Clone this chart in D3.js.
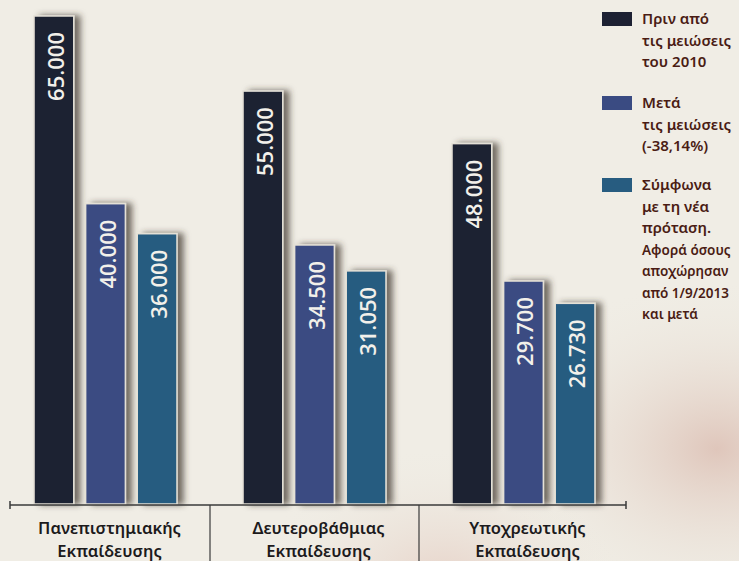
<!DOCTYPE html>
<html>
<head>
<meta charset="utf-8">
<style>
  html, body { margin: 0; padding: 0; }
  body { width: 739px; height: 561px; overflow: hidden; background: #eeebe2; }
  svg { display: block; }
</style>
</head>
<body>
<script src="https://cdn.jsdelivr.net/npm/d3@7/dist/d3.min.js"></script>
<script>
// data
const categories = [["Πανεπιστημιακής", "Εκπαίδευσης"], ["Δευτεροβάθμιας", "Εκπαίδευσης"], ["Υποχρεωτικής", "Εκπαίδευσης"]]
const seriesNames = ["before", "after", "proposal"]
const before2010 = [65000, 55000, 48000]
const afterCuts = [40000, 34500, 29700]
const newProposal = [36000, 31050, 26730]
const valueLabels = [["65.000", "40.000", "36.000"], ["55.000", "34.500", "31.050"], ["48.000", "29.700", "26.730"]]
const legendLabels = [
  ["Πριν από", "τις μειώσεις", "του 2010"],
  ["Μετά", "τις μειώσεις", "(-38,14%)"],
  ["Σύμφωνα", "με τη νέα", "πρόταση.", "Αφορά όσους", "αποχώρησαν", "από 1/9/2013", "και μετά"]
]
const colors = ["#1d2133", "#3a4b82", "#275c80"]

document.addEventListener("DOMContentLoaded", () => {
  const w = 739, h = 561
  const baseY = 504

  const svg = d3.select("body").append("svg").attr("width", w).attr("height", h)

  // paper background
  const defs = svg.append("defs")
  const bg = defs.append("radialGradient").attr("id", "bgTint").attr("cx", "0.97").attr("cy", "0.8").attr("r", "0.3")
  bg.append("stop").attr("offset", "0%").attr("stop-color", "#dfc6bb")
  bg.append("stop").attr("offset", "100%").attr("stop-color", "#eeebe2").attr("stop-opacity", 0)
  const bg2 = defs.append("radialGradient").attr("id", "bgTint2").attr("cx", "0.6").attr("cy", "1.05").attr("r", "0.25")
  bg2.append("stop").attr("offset", "0%").attr("stop-color", "#e6d0c6")
  bg2.append("stop").attr("offset", "100%").attr("stop-color", "#eeebe2").attr("stop-opacity", 0)

  const shadow = defs.append("filter").attr("id", "shadow").attr("x", "-20%").attr("y", "-5%").attr("width", "160%").attr("height", "110%")
  shadow.append("feDropShadow").attr("dx", 6).attr("dy", 0).attr("stdDeviation", 3)
    .attr("flood-color", "#3a3026").attr("flood-opacity", 0.7)

  svg.append("rect").attr("width", w).attr("height", h).attr("fill", "#f0ede5")
  svg.append("rect").attr("width", w).attr("height", h).attr("fill", "url(#bgTint)")
  svg.append("rect").attr("width", w).attr("height", h).attr("fill", "url(#bgTint2)")

  const x0 = d3.scaleBand()
    .domain(d3.range(categories.length))
    .range([10, 619])
    .paddingInner(0.316)
    .paddingOuter(0.115)

  const x1 = d3.scaleBand()
    .domain(seriesNames)
    .range([0, x0.bandwidth()])
    .paddingInner(0.23)

  const y = d3.scaleLinear()
    .domain([0, 65000])
    .range([baseY, 16])

  const rows = categories.map((c, i) => [before2010[i], afterCuts[i], newProposal[i]])

  const groups = svg.selectAll("g.group").data(rows).enter().append("g")
    .attr("class", "group")
    .attr("transform", (d, i) => "translate(" + x0(i) + ",0)")

  groups.selectAll("rect").data(d => d).enter().append("rect")
    .attr("x", (d, j) => x1(seriesNames[j]))
    .attr("y", d => y(d))
    .attr("width", x1.bandwidth())
    .attr("height", d => baseY - y(d))
    .attr("fill", (d, j) => colors[j])
    .attr("stroke", "#e4e0d6")
    .attr("stroke-width", 1.5)
    .attr("filter", "url(#shadow)")

  groups.selectAll("text.val").data((d, i) => d.map((v, j) => ({v: v, j: j, i: i}))).enter().append("text")
    .attr("class", "val")
    .attr("transform", d => "translate(" + (x1(seriesNames[d.j]) + x1.bandwidth() / 2 + 1) + "," + (y(d.v) + 16) + ") rotate(-90)")
    .attr("text-anchor", "end")
    .attr("dominant-baseline", "central")
    .attr("fill", "#f2f0ea")
    .attr("font-family", "Open Sans, sans-serif")
    .attr("font-weight", 600)
    .attr("font-size", 22)
    .text(d => valueLabels[d.i][d.j])

  // axis line with end caps
  svg.append("line").attr("x1", 10).attr("x2", 626).attr("y1", baseY + 1).attr("y2", baseY + 1)
    .attr("stroke", "#3a3a3a").attr("stroke-width", 1.5)
  ;[10, 626].forEach(xx => {
    svg.append("line").attr("x1", xx).attr("x2", xx).attr("y1", baseY - 3).attr("y2", baseY + 5)
      .attr("stroke", "#3a3a3a").attr("stroke-width", 1.5)
  })

  // dividers between groups
  d3.range(1, categories.length).forEach(i => {
    const xx = (x0(i - 1) + x0.bandwidth() + x0(i)) / 2
    svg.append("line").attr("x1", xx).attr("x2", xx).attr("y1", baseY + 1).attr("y2", h)
      .attr("stroke", "#3a3a3a").attr("stroke-width", 1.2)
  })

  // category labels
  const lab = svg.selectAll("text.cat").data(categories).enter().append("text")
    .attr("class", "cat")
    .attr("text-anchor", "middle")
    .attr("font-family", "Noto Sans, sans-serif")
    .attr("font-weight", 600)
    .attr("font-size", 16.5)
    .attr("fill", "#1c1a1c")
  lab.selectAll("tspan").data((d, i) => d.map(t => ({t: t, i: i}))).enter().append("tspan")
    .attr("x", d => x0(d.i) + x0.bandwidth() / 2 + 4)
    .attr("y", (d, k) => 534 + k * 23)
    .text(d => d.t)

  // legend
  const legendY = [12, 96, 178]
  const leg = svg.selectAll("g.leg").data(legendLabels).enter().append("g")
    .attr("class", "leg")
    .attr("transform", (d, i) => "translate(602," + legendY[i] + ")")
  leg.append("rect").attr("width", 30).attr("height", 14)
    .attr("fill", (d, i) => colors[i])
  leg.selectAll("text").data(d => d).enter().append("text")
    .attr("x", 40)
    .attr("y", (d, k) => 12 + k * 21.5)
    .attr("font-family", "Noto Sans, sans-serif")
    .attr("font-weight", 600)
    .attr("font-size", (d, k) => k >= 3 ? 13.5 : 15)
    .attr("fill", "#4a1c14")
    .text(d => d)
})
</script>
</body>
</html>
